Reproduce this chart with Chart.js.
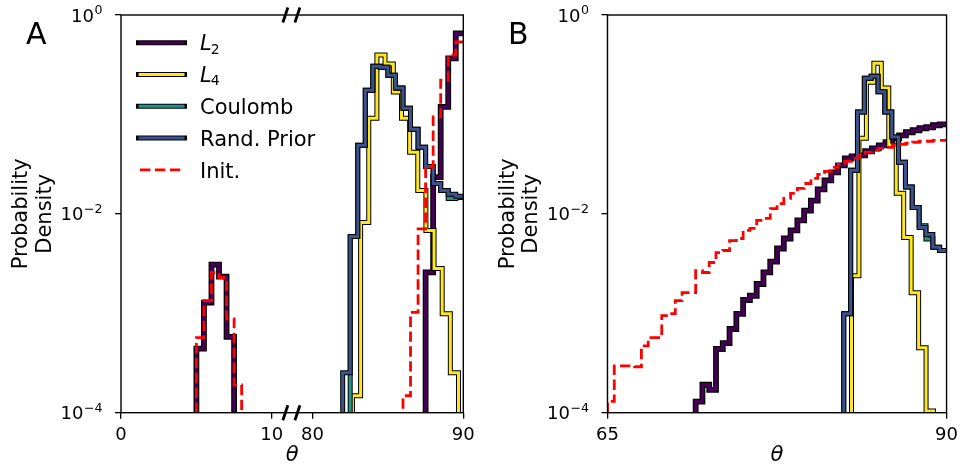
<!DOCTYPE html>
<html>
<head>
<meta charset="utf-8">
<script src="https://cdn.jsdelivr.net/npm/chart.js@4.4.0/dist/chart.umd.min.js"></script>
<style>
  html, body { margin: 0; padding: 0; background: #fff; }
  #wrap { position: relative; width: 964px; height: 467px; }
  canvas { position: absolute; top: 0; }
  #chartA { left: 0; }
  #chartB { left: 482px; }
</style>
</head>
<body>
<div id="wrap">
  <canvas id="chartA" width="482" height="467"></canvas>
  <canvas id="chartB" width="482" height="467"></canvas>
</div>
<script>
// ---------------------------------------------------------------
// Data (histogram bin edges + densities)
// ---------------------------------------------------------------

// Panel A (broken theta axis: 0..~11 | ~79..90)
const A_X_TICKS = [0, 10, 80, 90];
const A_X_TICK_LABELS = ['0', '10', '80', '90'];

const A_L2_EDGES = [5.0, 5.5, 6.0, 6.5, 7.0, 7.5, 87.5, 88.0, 88.5, 89.0, 89.5, 90.0];
const A_L2_VALUES = [4.4e-4, 1.28e-3, 3.09e-3, 2.34e-3, 5.8e-4, 0, 2.58e-3, 0.0234, 0.119, 0.366, 0.654];

const A_L4_EDGES = [82.65, 83.19, 83.73, 84.27, 84.81, 85.36, 85.90, 86.44, 86.98, 87.52, 88.06, 88.60, 89.14, 89.68];
const A_L4_VALUES = [1.48e-4, 8.2e-3, 0.0916, 0.395, 0.321, 0.168, 0.0916, 0.0416, 0.0172, 6.8e-3, 2.82e-3, 9.9e-4, 2.52e-4];

const A_COULOMB_EDGES = [82.5, 83.0, 83.5, 84.0, 84.5, 85.0, 85.5, 86.0, 86.5, 87.0, 87.5, 88.0, 88.5, 89.0, 89.5, 90.0];
const A_COULOMB_VALUES = [5.92e-3, 0.0489, 0.175, 0.306, 0.299, 0.248, 0.184, 0.1155, 0.0709, 0.0467, 0.0300, 0.0202, 0.0172, 0.0143, 0.0146];

const A_PRIOR_EDGES = [82.0, 82.5, 83.0, 83.5, 84.0, 84.5, 85.0, 85.5, 86.0, 86.5, 87.0, 87.5, 88.0, 88.5, 89.0, 89.5, 90.0];
const A_PRIOR_VALUES = [2.52e-4, 5.92e-3, 0.0489, 0.175, 0.306, 0.299, 0.248, 0.184, 0.1155, 0.0709, 0.0467, 0.0300, 0.0202, 0.0172, 0.0157, 0.0150];

const A_INIT_EDGES = [5.0, 5.5, 6.0, 6.5, 7.0, 7.5, 8.0, 86.0, 86.5, 87.0, 87.5, 88.0, 88.5, 89.0, 89.5, 90.0];
const A_INIT_VALUES = [5.7e-4, 1.34e-3, 2.57e-3, 2.29e-3, 8.8e-4, 1.9e-4, 0, 1.48e-4, 1.02e-3, 7.07e-3, 0.0296, 0.0944, 0.221, 0.395, 0.535];

// Panel B (theta 65..90)
const B_X_TICKS = [65, 90];
const B_X_TICK_LABELS = ['65', '90'];

const B_EDGES = [65, 65.5, 66, 66.5, 67, 67.5, 68, 68.5, 69, 69.5, 70, 70.5, 71, 71.5, 72, 72.5,
  73, 73.5, 74, 74.5, 75, 75.5, 76, 76.5, 77, 77.5, 78, 78.5, 79, 79.5, 80, 80.5, 81, 81.5,
  82, 82.5, 83, 83.5, 84, 84.5, 85, 85.5, 86, 86.5, 87, 87.5, 88, 88.5, 89, 89.5, 90];

const B_L2_VALUES = [0, 0, 0, 0, 0, 0, 0, 0, 0, 0, 0, 0, 0,
  1.29e-4, 1.91e-4, 1.70e-4, 4.37e-4, 5.02e-4, 6.95e-4, 9.84e-4, 1.36e-3, 1.50e-3, 1.97e-3,
  2.58e-3, 3.31e-3, 4.48e-3, 5.65e-3, 6.81e-3, 8.58e-3, 0.0108, 0.0136, 0.0176, 0.0217,
  0.0261, 0.0308, 0.0362, 0.0379, 0.0388, 0.0426, 0.0456, 0.0489, 0.0525, 0.0576, 0.0617,
  0.0662, 0.0693, 0.0726, 0.0743, 0.0778, 0.0796];

const B_INIT_VALUES = [1.3e-4, 2.96e-4, 2.96e-4, 2.96e-4, 2.9e-4, 4.71e-4, 5.68e-4, 5.68e-4, 9.45e-4, 9.91e-4,
  1.34e-3, 1.61e-3, 1.61e-3, 2.69e-3, 2.57e-3, 3.24e-3, 4.08e-3, 4.28e-3, 5.39e-3, 5.65e-3,
  6.81e-3, 7.13e-3, 8.58e-3, 8.99e-3, 0.0113, 0.0127, 0.0143, 0.0161, 0.0180, 0.0202,
  0.0227, 0.0249, 0.0267, 0.0294, 0.0315, 0.0337, 0.0362, 0.0388, 0.0416, 0.0436,
  0.0456, 0.0467, 0.0489, 0.0501, 0.0513, 0.0525, 0.0537, 0.0537, 0.0549, 0.0549];

const B_L4_EDGES = [82.99, 83.54, 84.09, 84.64, 85.19, 85.74, 86.29, 86.84, 87.39, 87.94, 88.49, 89.04];
const B_L4_VALUES = [2.39e-3, 0.0575, 0.211, 0.328, 0.184, 0.0489, 0.0161, 5.78e-3, 1.61e-3, 4.5e-4, 1.04e-4];

const B_PRIOR_EDGES = [82.42, 82.93, 83.43, 83.94, 84.44, 84.95, 85.45, 85.96, 86.46, 86.97, 87.47, 87.98, 88.48, 88.99, 89.49, 90.0];
const B_PRIOR_VALUES = [9.9e-4, 0.0274, 0.106, 0.2317, 0.2427, 0.1686, 0.106, 0.0593, 0.0330, 0.0186, 0.0116, 7.29e-3, 6.19e-3, 4.62e-3, 4.28e-3];
const B_COULOMB_VALUES = [9.9e-4, 0.0274, 0.106, 0.2317, 0.2427, 0.1686, 0.106, 0.0593, 0.0330, 0.0186, 0.0116, 7.6e-3, 5.6e-3, 4.62e-3, 4.28e-3];

// shared
const Y_TICKS = [1e-4, 1e-2, 1];
const Y_TICK_EXPONENTS = ['\u22124', '\u22122', '0'];
const THETA_MAX = 90;

const COLORS = {
    l2: '#440154',
    l4: '#fde725',
    coulomb: '#21918c',
    prior: '#3b528b',
    init: '#ff0000'
};

const LEGEND = [
    { text: 'L', sub: '2', color: COLORS.l2 },
    { text: 'L', sub: '4', color: COLORS.l4 },
    { text: 'Coulomb', color: COLORS.coulomb },
    { text: 'Rand. Prior', color: COLORS.prior },
    { text: 'Init.', color: COLORS.init, dashed: true }
];

// ---------------------------------------------------------------
// Helpers
// ---------------------------------------------------------------
const FONT = '"DejaVu Sans", sans-serif';
const INIT_DASH = [10.4, 4.5];

// broken axis: the right block (79..90) is slid next to the left one
const BREAK_SHIFT = 67.3;
function axisA(theta) {
    return theta > 40 ? theta - BREAK_SHIFT : theta;
}
function axisB(theta) {
    return theta;
}

// outline of a step histogram, dropping to "zero" (below the log axis) at the ends.
// A last edge sitting on the right spine is not dropped (hidden in the original).
function histPoints(edges, values, mapX) {
    const floor = 1e-7;
    const pts = [{ x: mapX(edges[0]), y: floor }];
    values.forEach((v, i) => {
        const y = v > 0 ? v : floor;
        pts.push({ x: mapX(edges[i]), y: y });
        pts.push({ x: mapX(edges[i + 1]), y: y });
    });
    const last = edges[edges.length - 1];
    if (last < THETA_MAX) {
        pts.push({ x: mapX(last), y: floor });
    }
    return pts;
}

// a coloured line sitting on a slightly wider black stroke
function outlined(points, color, order, core, edge) {
    const base = {
        data: points, pointRadius: 0, tension: 0, fill: false, clip: 0,
        borderJoinStyle: 'miter', borderCapStyle: 'butt'
    };
    return [
        Object.assign({}, base, { borderColor: color, borderWidth: core, order: order }),
        Object.assign({}, base, { borderColor: '#000', borderWidth: edge, order: order + 1 })
    ];
}

function dashed(points, color) {
    return {
        data: points, pointRadius: 0, tension: 0, fill: false, clip: 0,
        borderColor: color, borderWidth: 2.8, borderDash: INIT_DASH, order: 0,
        borderCapStyle: 'butt', borderJoinStyle: 'miter'
    };
}

function drawYTickLabels(chart) {
    const { ctx, chartArea: a } = chart;
    const ys = chart.scales.y;
    ctx.save();
    ctx.fillStyle = '#000';
    ctx.textBaseline = 'alphabetic';
    ctx.textAlign = 'left';
    Y_TICKS.forEach((v, i) => {
        const y = ys.getPixelForValue(v);
        ctx.font = '18px ' + FONT;
        const wBase = ctx.measureText('10').width;
        ctx.font = '12.6px ' + FONT;
        const wExp = ctx.measureText(Y_TICK_EXPONENTS[i]).width;
        const x0 = a.left - 19 - wBase - wExp;
        ctx.font = '18px ' + FONT;
        ctx.fillText('10', x0, y + 6.6);
        ctx.font = '12.6px ' + FONT;
        ctx.fillText(Y_TICK_EXPONENTS[i], x0 + wBase + 0.5, y - 1);
    });
    ctx.restore();
}

function drawAxisTitles(chart, letter, letterX) {
    const { ctx, chartArea: a } = chart;
    const yc = (a.top + a.bottom) / 2;
    ctx.save();
    ctx.fillStyle = '#000';
    ctx.textBaseline = 'alphabetic';

    // y label, two lines, rotated
    ctx.font = '21px ' + FONT;
    ctx.textAlign = 'center';
    [['Probability', a.left - 94], ['Density', a.left - 70.5]].forEach(([txt, xb]) => {
        ctx.save();
        ctx.translate(xb, yc);
        ctx.rotate(-Math.PI / 2);
        ctx.fillText(txt, 0, 0);
        ctx.restore();
    });

    // x label
    ctx.font = 'italic 21px ' + FONT;
    ctx.fillText('\u03b8', (a.left + a.right) / 2, 461);

    // panel letter
    ctx.font = '30px ' + FONT;
    ctx.textAlign = 'left';
    ctx.fillText(letter, letterX, 43.5);
    ctx.restore();
}

function drawLegend(ctx) {
    const x0 = 138.5, x1 = 184.5, tx = 200, y0 = 42.7, dy = 31.8;
    ctx.save();
    LEGEND.forEach((item, i) => {
        const y = y0 + i * dy;
        if (item.dashed) {
            ctx.strokeStyle = item.color;
            ctx.lineWidth = 2.8;
            ctx.setLineDash(INIT_DASH);
            ctx.beginPath();
            ctx.moveTo(x0 + 1.5, y);
            ctx.lineTo(x1, y);
            ctx.stroke();
            ctx.setLineDash([]);
        } else {
            ctx.strokeStyle = '#000';
            ctx.lineWidth = 5;
            ctx.lineCap = 'square';
            ctx.beginPath();
            ctx.moveTo(x0, y);
            ctx.lineTo(x1, y);
            ctx.stroke();
            ctx.strokeStyle = item.color;
            ctx.lineWidth = 3;
            ctx.lineCap = 'butt';
            ctx.beginPath();
            ctx.moveTo(x0, y);
            ctx.lineTo(x1, y);
            ctx.stroke();
        }
        ctx.fillStyle = '#000';
        ctx.textAlign = 'left';
        ctx.textBaseline = 'alphabetic';
        if (item.sub) {
            ctx.font = 'italic 21px ' + FONT;
            ctx.fillText(item.text, tx, y + 7.4);
            const w = ctx.measureText(item.text).width;
            ctx.font = '14px ' + FONT;
            ctx.fillText(item.sub, tx + w - 1, y + 10.8);
        } else {
            ctx.font = '21px ' + FONT;
            ctx.fillText(item.text, tx, y + 7.6);
        }
    });
    ctx.restore();
}

function drawBreakMarks(chart) {
    const { ctx, chartArea: a } = chart;
    const xs = chart.scales.x;
    const marks = [xs.getPixelForValue(axisA(10.9)), xs.getPixelForValue(axisA(79.0))];
    ctx.save();
    ctx.strokeStyle = '#000';
    ctx.lineWidth = 2.8;
    [a.top, a.bottom].forEach(yy => {
        marks.forEach(xx => {
            ctx.beginPath();
            ctx.moveTo(xx - 2.5, yy + 7.5);
            ctx.lineTo(xx + 2.5, yy - 7.5);
            ctx.stroke();
        });
    });
    ctx.restore();
}

function spinePlugin() {
    return {
        id: 'spines',
        afterDatasetsDraw(chart) {
            const { ctx, chartArea: a } = chart;
            ctx.save();
            ctx.strokeStyle = '#000';
            ctx.lineWidth = 1.4;
            ctx.strokeRect(a.left, a.top, a.right - a.left, a.bottom - a.top);
            ctx.restore();
        }
    };
}

function makeScales(xMin, xMax, ticks, labels, mapX, yAxisWidth) {
    return {
        x: {
            type: 'linear', min: xMin, max: xMax,
            afterBuildTicks: s => { s.ticks = ticks.map(t => ({ value: mapX(t) })); },
            afterFit: s => { s.height = 467 - 412.7; },
            ticks: {
                callback: (v, i) => labels[i],
                font: { family: FONT, size: 18 }, color: '#000',
                padding: 6, maxRotation: 0, autoSkip: false
            },
            grid: { drawOnChartArea: false, drawTicks: true, tickLength: 6, color: '#000', lineWidth: 1.3 },
            border: { display: false }
        },
        y: {
            type: 'logarithmic', min: 1e-4, max: 1,
            afterBuildTicks: s => { s.ticks = Y_TICKS.map(v => ({ value: v })); },
            afterFit: s => { s.width = yAxisWidth; },
            ticks: { display: false },
            grid: { drawOnChartArea: false, drawTicks: true, tickLength: 6, color: '#000', lineWidth: 1.3 },
            border: { display: false }
        }
    };
}

const commonOptions = {
    responsive: false,
    maintainAspectRatio: false,
    animation: false,
    events: [],
    devicePixelRatio: 1,
    plugins: { legend: { display: false }, tooltip: { enabled: false } }
};

// ---------------------------------------------------------------
// Panel A
// ---------------------------------------------------------------
const datasetsA = [
    dashed(histPoints(A_INIT_EDGES, A_INIT_VALUES, axisA), COLORS.init),
    ...outlined(histPoints(A_PRIOR_EDGES, A_PRIOR_VALUES, axisA), COLORS.prior, 1, 3, 5),
    ...outlined(histPoints(A_COULOMB_EDGES, A_COULOMB_VALUES, axisA), COLORS.coulomb, 3, 3, 5),
    ...outlined(histPoints(A_L4_EDGES, A_L4_VALUES, axisA), COLORS.l4, 5, 3, 5),
    ...outlined(histPoints(A_L2_EDGES, A_L2_VALUES, axisA), COLORS.l2, 7, 3.5, 5.8)
];

new Chart(document.getElementById('chartA'), {
    type: 'line',
    data: { datasets: datasetsA },
    options: Object.assign({}, commonOptions, {
        layout: { padding: { left: 0, right: 482 - 463.3, top: 15, bottom: 0 } },
        scales: makeScales(0, axisA(90), A_X_TICKS, A_X_TICK_LABELS, axisA, 121)
    }),
    plugins: [spinePlugin(), {
        id: 'panelA',
        afterDraw(chart) {
            drawBreakMarks(chart);
            drawYTickLabels(chart);
            drawAxisTitles(chart, 'A', 26);
            drawLegend(chart.ctx);
        }
    }]
});

// ---------------------------------------------------------------
// Panel B
// ---------------------------------------------------------------
const datasetsB = [
    dashed(histPoints(B_EDGES, B_INIT_VALUES, axisB), COLORS.init),
    ...outlined(histPoints(B_PRIOR_EDGES, B_PRIOR_VALUES, axisB), COLORS.prior, 1, 3, 5),
    ...outlined(histPoints(B_PRIOR_EDGES, B_COULOMB_VALUES, axisB), COLORS.coulomb, 3, 3, 5),
    ...outlined(histPoints(B_L4_EDGES, B_L4_VALUES, axisB), COLORS.l4, 5, 3, 5),
    ...outlined(histPoints(B_EDGES, B_L2_VALUES, axisB), COLORS.l2, 7, 3.5, 5.8)
];

new Chart(document.getElementById('chartB'), {
    type: 'line',
    data: { datasets: datasetsB },
    options: Object.assign({}, commonOptions, {
        layout: { padding: { left: 0, right: 482 - 468.5, top: 15, bottom: 0 } },
        scales: makeScales(65, 90, B_X_TICKS, B_X_TICK_LABELS, axisB, 125.5)
    }),
    plugins: [spinePlugin(), {
        id: 'panelB',
        afterDraw(chart) {
            drawYTickLabels(chart);
            drawAxisTitles(chart, 'B', 26);
        }
    }]
});
</script>
</body>
</html>
